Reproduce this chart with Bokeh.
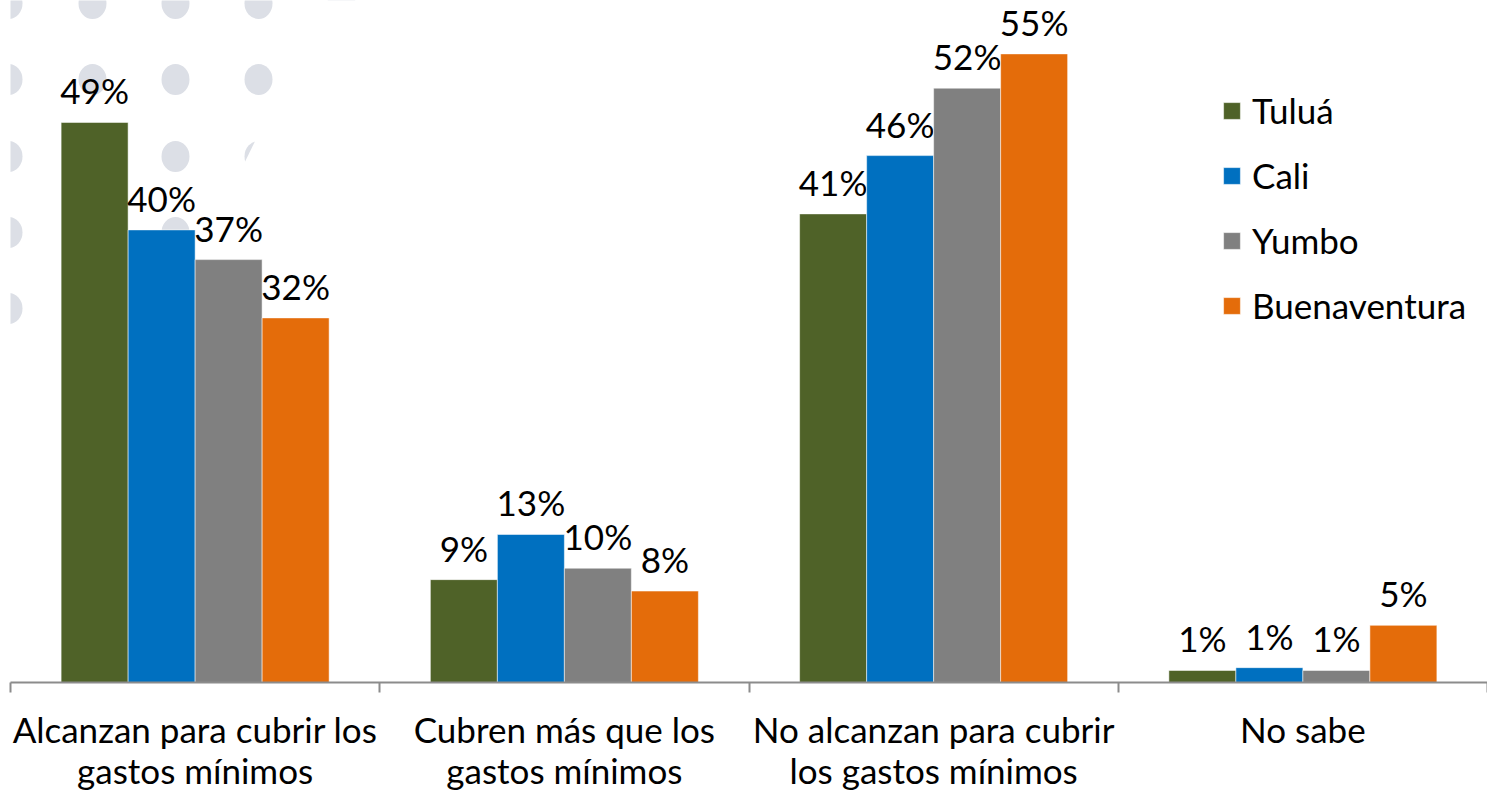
from bokeh.plotting import figure
from bokeh.models import (FactorRange, Range1d, LinearAxis, CategoricalAxis, FixedTicker,
                          Legend, LegendItem, ColumnDataSource)
from bokeh.transform import dodge
from bokeh.core.properties import value
from bokeh.embed import file_html
from bokeh.resources import INLINE

# ---------------- data ----------------
categories = [
    "Alcanzan para cubrir los\ngastos mínimos",
    "Cubren más que los\ngastos mínimos",
    "No alcanzan para cubrir\nlos gastos mínimos",
    "No sabe",
]
series = ["Tuluá", "Cali", "Yumbo", "Buenaventura"]
tulua = [49.0, 9.0, 41.0, 1.05]
cali = [39.6, 12.95, 46.1, 1.3]
yumbo = [37.0, 10.0, 52.0, 1.05]
buenaventura = [31.9, 8.0, 55.0, 5.0]
values_by_series = [tulua, cali, yumbo, buenaventura]

# ---------------- styling ----------------
colors = ["#4F6228", "#0070C0", "#808080", "#E46C0A"]
offsets = [-0.2722, -0.0907, 0.0907, 0.2722]
BAR_W = 0.1814
FONT = "Lato"
FS = "35px"
AXIS_COLOR = "#8C8C8C"
DOT_COLOR = "#DCDFE6"
FRAME_X0 = 10
FRAME_W = 1477
FRAME_H = 682
Y_TOP = 59.67

# decorative background dots (page pixel positions)
dot_cols = [8, 92, 175, 258, 341]
dot_rows = [3, 79, 156, 232, 308]


def px_to_cat(px):
    """page pixel x -> (first factor, offset) for the categorical range"""
    synth = (px - FRAME_X0) / (FRAME_W / len(categories))
    return (categories[0], synth - 0.5)


p = figure(
    x_range=FactorRange(*categories, range_padding=0),
    y_range=Range1d(0, Y_TOP),
    frame_width=FRAME_W, frame_height=FRAME_H,
    min_border=0, min_border_left=FRAME_X0, min_border_right=0, min_border_top=0,
    min_border_bottom=0,
    toolbar_location=None, output_backend="svg",
    x_axis_location=None, y_axis_location=None,
    outline_line_color=None,
)
p.xgrid.visible = False
p.ygrid.visible = False
p.background_fill_color = "white"
p.border_fill_color = "white"

p.extra_y_ranges = {"px": Range1d(FRAME_H, 0)}

# background dots
dx, dy = [], []
for yy in dot_rows:
    for xx in dot_cols:
        dx.append(px_to_cat(xx))
        dy.append(yy)
p.ellipse(x=dx, y=dy, width=28, height=31, width_units="screen", height_units="screen",
          y_range_name="px", fill_color=DOT_COLOR, line_color=None)
# diagonal cut of the dot pattern
p.patch(x=[px_to_cat(v) for v in [333, 460, 460, 162]], y=[-20, -20, 330, 330],
        y_range_name="px", fill_color="white", line_color=None)

renderers = []
for name, vals, col, off in zip(series, values_by_series, colors, offsets):
    src = ColumnDataSource(dict(cat=categories, val=vals, lab=[f"{round(v)}%" for v in vals]))
    r = p.vbar(x=dodge("cat", off, range=p.x_range), top="val", width=BAR_W, source=src,
               fill_color=col, line_color="white", line_alpha=0.5, line_width=1)
    renderers.append(r)
    p.text(x=dodge("cat", off, range=p.x_range), y="val", text="lab", source=src,
           text_align="center", text_baseline="alphabetic", y_offset=-32,
           text_font=value(FONT), text_font_size=FS, text_color="black")

# axis line with ticks at the category boundaries
num_axis = LinearAxis(ticker=FixedTicker(ticks=[0, 1, 2, 3, 4]),
                      major_tick_in=0, major_tick_out=10,
                      minor_tick_line_color=None,
                      major_label_text_font_size="0px", major_label_text_alpha=0,
                      major_label_standoff=0,
                      axis_line_color=AXIS_COLOR, axis_line_width=2,
                      major_tick_line_color=AXIS_COLOR, major_tick_line_width=2)
cat_axis = CategoricalAxis(axis_line_color=None, major_tick_line_color=None,
                           minor_tick_line_color=None,
                           major_label_text_font=FONT, major_label_text_font_size=FS,
                           major_label_text_color="black",
                           major_label_standoff=9, major_label_text_line_height=0.98)
p.add_layout(num_axis, "below")
p.add_layout(cat_axis, "below")

legend = Legend(items=[LegendItem(label=n, renderers=[r]) for n, r in zip(series, renderers)],
                location=(1211, 356), orientation="vertical",
                glyph_width=21, glyph_height=21, label_standoff=10,
                label_text_font=FONT, label_text_font_size=FS, label_text_color="black",
                spacing=23, padding=0, margin=0,
                border_line_color=None, background_fill_alpha=0)
p.add_layout(legend)

open("out.html", "w").write(file_html(p, INLINE))
